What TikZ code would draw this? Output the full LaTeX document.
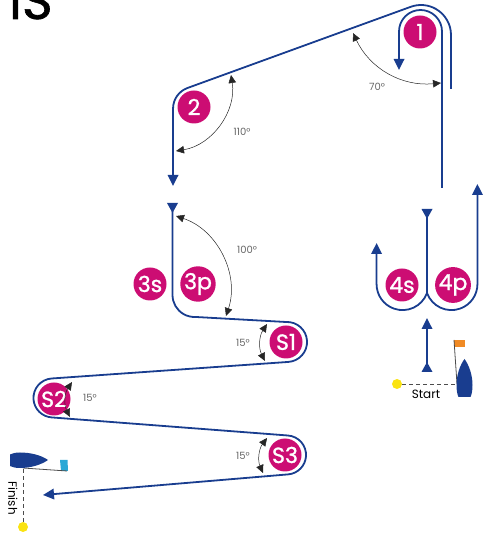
\documentclass[tikz,border=0pt]{standalone}
\usepackage{fontspec}
\setmainfont{Poppins}
\newfontfamily\legfont[FakeBold=1.2]{Poppins}
\usetikzlibrary{arrows.meta}
\definecolor{courseblue}{rgb}{0.10,0.24,0.56}
\definecolor{legpink}{rgb}{0.80,0.05,0.45}
\definecolor{buoyyellow}{rgb}{0.98,0.89,0.07}
\definecolor{flagorange}{rgb}{0.94,0.54,0.14}
\definecolor{flagblue}{rgb}{0.16,0.66,0.84}

\begin{document}
\begin{tikzpicture}
  [x=1pt,y=1pt,
   leg/.style={circle,fill=legpink,text=white,minimum size=33pt,inner sep=0pt,font=\legfont\fontsize{22}{22}\selectfont},
   anglelabel/.style={inner sep=0pt,text=black!60,font=\fontsize{10}{10}\selectfont},
   course/.style={draw=courseblue,line width=1.8pt,line join=round},
   headend/.style={-{Triangle[length=11pt,width=10.5pt]}},
   headboth/.style={{Triangle[reversed,length=10pt,width=10.5pt]}-{Triangle[length=11pt,width=10.5pt]}},
   headstart/.style={{Triangle[reversed,length=10pt,width=10.5pt]}-},
   anglearc/.style={draw=black!85,line width=0.5pt,{Triangle[length=8pt,width=7.5pt]}-{Triangle[length=8pt,width=7.5pt]}},
   dashline/.style={draw=black!70,line width=0.8pt,dash pattern=on 4pt off 3pt},
   buoy/.style={circle,fill=buoyyellow,minimum size=10pt,inner sep=0pt}]

  \useasboundingbox (0,0) rectangle (482,535);

  \node[anchor=base west,inner sep=0pt,font=\legfont\fontsize{52}{52}\selectfont] (title) at (9,516) {IS};

  % legs of the course
  \draw[course,headend] (442,347) -- (442,503.5) arc (0:180:21.5) -- (399,465);
  \draw[course,headend] (451,446) -- (451,500) arc (0:110:30) -- (187.5,447) arc (110:180:22) -- (173,349);
  \draw[course,headboth] (172.5,332) -- (172.5,240) arc (180:273:22) -- (286,213) arc (93:-86:20)
    -- (51.6,156.5) arc (94:266:19.5) -- (287.9,99.5) arc (86:-85:19.5) -- (43,40);
  \draw[course,headstart] (427,326) -- (427,242);
  \draw[course,headend] (427,242) arc (-20:-180:26) -- (376.6,292);
  \draw[course,headend] (427,242) arc (200:360:26) -- (477.4,351);
  \draw[course,headboth] (427,163) -- (427,217);

  \node[leg] (n1) at (420,503) {1};
  \node[leg] (n2) at (194,428) {2};
  \node[leg] (n3s) at (150,251) {3s};
  \node[leg] (n3p) at (198,251) {3p};
  \node[leg] (n4s) at (402,250) {4s};
  \node[leg] (n4p) at (453,250) {4p};
  \node[leg] (s1) at (286,193) {S1};
  \node[leg] (s2) at (54,136) {S2};
  \node[leg] (s3) at (285,80) {S3};

  % angles
  \coordinate (a70a) at (353,502);
  \coordinate (a70b) at (441,452);
  \coordinate (a110a) at (231,460);
  \coordinate (a110b) at (176,384);
  \coordinate (a100a) at (176,319);
  \coordinate (a100b) at (226,219);
  \coordinate (a15a) at (267,211);
  \coordinate (a15b) at (265,174);
  \coordinate (a15c) at (72,153);
  \coordinate (a15d) at (70,118);
  \coordinate (a15e) at (267,97);
  \coordinate (a15f) at (263,62);
  \foreach \from/\to/\bendang in {a70a/a70b/35,a110b/a110a/45,a100a/a100b/-45,a15a/a15b/30,a15d/a15c/-30,a15e/a15f/30}
    \draw[anglearc] (\from) to[bend right=\bendang] (\to);

  \node[anglelabel] (t70) at (377,448) {70°};
  \node[anglelabel] (t110) at (242,403) {110°};
  \node[anglelabel] (t100) at (247,285) {100°};
  \node[anglelabel] (t15a) at (243,192) {15°};
  \node[anglelabel] (t15b) at (90,137) {15°};
  \node[anglelabel] (t15c) at (243,79) {15°};

  % start
  \node[buoy] (startbuoy) at (397,151) {};
  \coordinate (startboat) at (457,151);
  \draw[dashline] (startbuoy) -- (startboat);
  \node[inner sep=0pt,font=\fontsize{12}{12}\selectfont] (starttext) at (426,141) {Start};
  \fill[flagorange] (454,195) rectangle (465,188);
  \coordinate (startflag) at (454,195);
  \draw[black!70,line width=0.8pt] (startflag) -- (startboat);
  \fill[courseblue] (464.5,176) .. controls (469,170) and (472.5,160) .. (472.5,150)
    .. controls (472.5,144) and (471.5,140) .. (470.5,138) -- (458.5,138)
    .. controls (457.5,140) and (456.5,144) .. (456.5,150)
    .. controls (456.5,160) and (460,170) .. (464.5,176) -- cycle;

  % finish
  \node[buoy] (finishbuoy) at (23,8) {};
  \coordinate (finishboat) at (23,67);
  \draw[dashline] (finishbuoy) -- (finishboat);
  \node[inner sep=0pt,rotate=-90,font=\fontsize{12}{12}\selectfont] (finishtext) at (13,37) {Finish};
  \fill[flagblue] (60,75) -- (67.5,75) -- (68,64) -- (61,64) -- cycle;
  \coordinate (finishflag) at (67,64);
  \draw[black!70,line width=0.8pt] (finishboat) -- (finishflag);
  \fill[courseblue] (48,75) .. controls (41,80) and (30,82.5) .. (20,82.5)
    .. controls (15,82.5) and (12,81.5) .. (10,80.5) -- (10,69)
    .. controls (12,68) and (15,67) .. (20,67)
    .. controls (30,67) and (41,70) .. (48,75) -- cycle;
\end{tikzpicture}
\end{document}
